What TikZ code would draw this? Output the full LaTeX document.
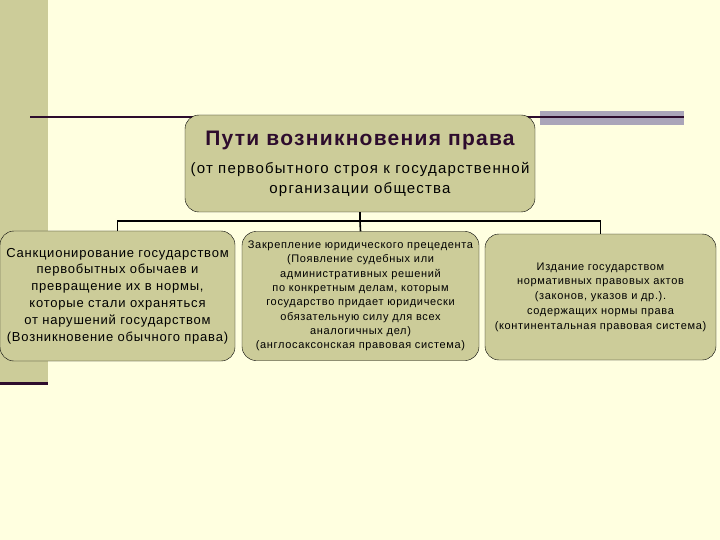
\documentclass[tikz,border=0pt]{standalone}
\usepackage{fontspec}
\setmainfont{Liberation Sans}[LetterSpace=6]
\usetikzlibrary{positioning}
\definecolor{paper}{RGB}{255,255,224}
\definecolor{khaki}{RGB}{204,204,153}
\definecolor{plum}{RGB}{45,12,45}
\definecolor{lilac}{RGB}{170,165,185}

\begin{document}
\begin{tikzpicture}[x=1pt, y=-1pt,
  way/.style={draw, fill=khaki, rounded corners=14pt, align=center, inner sep=2pt},
  link/.style={line width=1.6pt}]
  % slide background
  \fill[paper] (0,0) rectangle (720,540);
  \useasboundingbox (0,0) rectangle (720,540);
  \fill[khaki] (0,0) rectangle (48,383);
  \fill[plum] (0,382) rectangle (48,385);
  \fill[lilac] (540,111) rectangle (684,125);
  \draw[plum, line width=2pt] (30,117.5) -- (684,117.5);

  \node[way, minimum width=350pt, minimum height=97pt,
        font=\fontsize{15}{20}\selectfont\addfontfeatures{LetterSpace=8}] (root) at (360,163.5)
    {{\fontsize{21}{24}\selectfont\addfontfeatures{LetterSpace=6}\bfseries\color{plum}Пути возникновения права}\\[8pt]
     (от первобытного строя к государственной\\ организации общества};

  \node[way, minimum width=235pt, minimum height=130pt,
        font=\fontsize{13}{16.8}\selectfont] (custom) at (117.5,296)
    {Санкционирование государством\\ первобытных обычаев и\\
     превращение  их в нормы,\\ которые стали охраняться\\
     от нарушений государством\\ (Возникновение обычного права)};
  \node[way, minimum width=237pt, minimum height=129pt,
        font=\fontsize{11}{14.3}\selectfont] (precedent) at (360.5,296)
    {Закрепление юридического прецедента\\ (Появление судебных или\\
     административных решений\\ по конкретным делам, которым\\
     государство придает юридически\\ обязательную силу для всех\\
     аналогичных дел)\\ (англосаксонская правовая система)};
  \node[way, minimum width=231pt, minimum height=126pt,
        font=\fontsize{11}{14.7}\selectfont] (statute) at (600.5,297)
    {Издание государством\\ нормативных правовых актов\\
     (законов, указов и др.).\\ содержащих нормы права\\
     (континентальная правовая система)};

  \draw[link] (root.south) -- ++(0,9) coordinate (bus);
  \draw[link] (bus) -| (custom.north);
  \draw[link] (bus) -- (precedent.north);
  \draw[link] (bus) -| (statute.north);
\end{tikzpicture}
\end{document}
